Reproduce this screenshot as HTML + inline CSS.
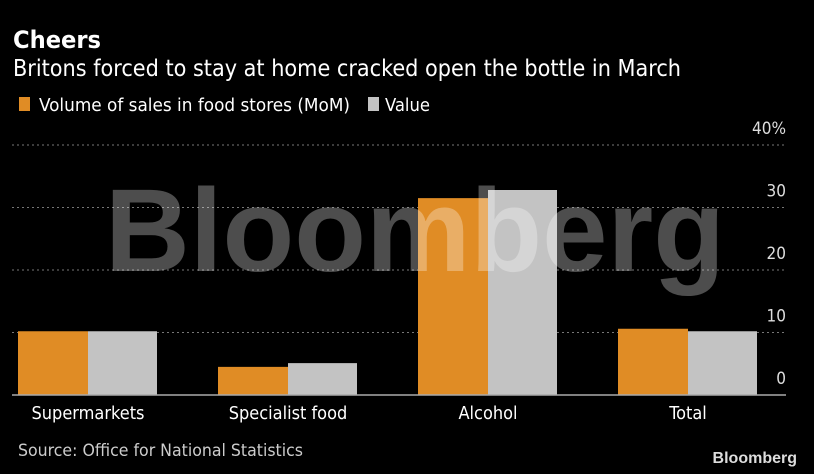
<!DOCTYPE html>
<html><head><meta charset="utf-8"><style>
html,body{margin:0;padding:0;background:#000;width:814px;height:474px;overflow:hidden}
svg text{font-family:"DejaVu Sans Condensed","DejaVu Sans","Liberation Sans",sans-serif}
</style></head><body>
<svg id="c" width="814" height="474" xmlns="http://www.w3.org/2000/svg">
<rect width="814" height="474" fill="#000"/>
<text x="13" y="48" font-size="24" font-weight="bold" fill="#fff" textLength="88" lengthAdjust="spacingAndGlyphs">Cheers</text>
<text x="13" y="76" font-size="23" fill="#fff" textLength="668" lengthAdjust="spacingAndGlyphs">Britons forced to stay at home cracked open the bottle in March</text>
<g>
<rect x="19" y="97" width="11" height="14" fill="#e08c25"/>
<text x="39" y="111" font-size="18" fill="#fff" textLength="311" lengthAdjust="spacingAndGlyphs">Volume of sales in food stores (MoM)</text>
<rect x="368" y="97" width="11" height="14" fill="#c3c3c3"/>
<text x="385" y="111" font-size="18" fill="#fff" textLength="45" lengthAdjust="spacingAndGlyphs">Value</text>
</g>
<g id="grid"></g>
<g id="bars"></g>
<text x="105" y="271" font-size="118" font-weight="bold" fill="#fff" fill-opacity="0.3" textLength="620" lengthAdjust="spacingAndGlyphs" style="font-family:'Liberation Sans',sans-serif">Bloomberg</text>
<line x1="12" x2="786" y1="395" y2="395" stroke="#aaa" stroke-width="1.5"/>
<g id="xl"></g>
<text x="18" y="456" font-size="17" fill="#ccc" textLength="285" lengthAdjust="spacingAndGlyphs">Source: Office for National Statistics</text>
<text x="797" y="463" text-anchor="end" font-size="16" font-weight="bold" fill="#ddd" style="font-family:'Liberation Sans',sans-serif">Bloomberg</text>
</svg>
<script>
const categories=["Supermarkets","Specialist food","Alcohol","Total"];
const volume=[10.2,4.5,31.5,10.6];
const valueSeries=[10.2,5.1,32.8,10.2];
const ticks=[0,10,20,30,40];
const tickLabels=["0","10","20","30","40%"];
const NS="http://www.w3.org/2000/svg";
const y=v=>395-v*6.25;
const x=i=>18+i*200;
const grid=document.getElementById('grid'),bars=document.getElementById('bars'),xl=document.getElementById('xl');
function mk(t,a,p){const e=document.createElementNS(NS,t);for(const k in a)e.setAttribute(k,a[k]);p.appendChild(e);return e;}
ticks.forEach((t,i)=>{
 if(t>0){const l=mk('line',{x1:12,x2:786,y1:y(t),y2:y(t),stroke:'#777','stroke-dasharray':'2,3'},grid);
 
 }
 const tx=mk('text',{x:786,y:y(t)-11,'text-anchor':'end','font-size':17,fill:'#ddd'},grid);
 tx.textContent=tickLabels[i];
 
 
});
categories.forEach((c,i)=>{
 const a=mk('rect',{x:x(i),y:y(volume[i]),width:70,height:395-y(volume[i]),fill:'#e08c25'},bars);
 
 
 const b=mk('rect',{x:x(i)+70,y:y(valueSeries[i]),width:69,height:395-y(valueSeries[i]),fill:'#c3c3c3'},bars);
 
 
 const t=mk('text',{x:x(i)+70,y:419,'text-anchor':'middle','font-size':18,fill:'#fff'},xl);
 t.textContent=c;
 
 
});
</script>
</body></html>
